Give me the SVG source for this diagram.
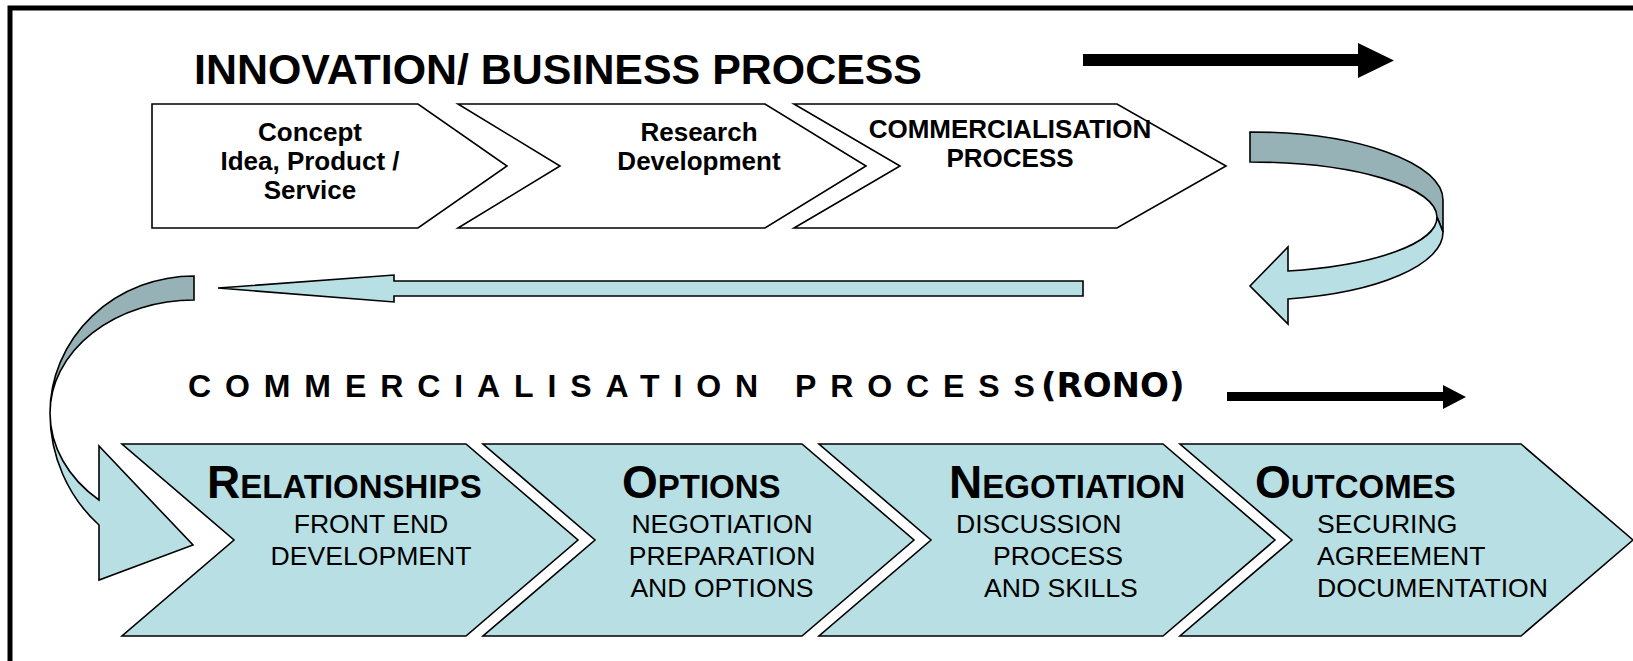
<svg xmlns="http://www.w3.org/2000/svg" width="1633" height="661" viewBox="0 0 1633 661">
<style>
.frame{fill:none;stroke:#000;stroke-width:5}
.wchev{fill:#fff;stroke:#000;stroke-width:1.6}
.tchev{fill:#B8DFE3;stroke:#000;stroke-width:1.6}
.light{fill:#B8DFE3;stroke:#000;stroke-width:1.6;stroke-linejoin:miter}
.dark{fill:#96B2B6;stroke:#000;stroke-width:1.6}
.blk{fill:#000;stroke:none}
.t1{font-family:"Liberation Sans",Arial,sans-serif;font-weight:bold;font-size:26px;fill:#000;text-anchor:middle}
.title{font-family:"Liberation Sans",Arial,sans-serif;font-weight:bold;font-size:42.5px;fill:#000}
.sub{font-family:"Liberation Sans",Arial,sans-serif;font-weight:bold;font-size:32px;letter-spacing:13.9px;fill:#000}
.rono{font-family:"DejaVu Sans",Verdana,sans-serif;font-weight:bold;font-size:34px;fill:#000}
.head{font-family:"Liberation Sans",Arial,sans-serif;font-weight:bold;font-size:33px;fill:#000}
.big{font-size:46px}
.body{font-family:"Liberation Sans",Arial,sans-serif;font-size:26.6px;fill:#000}
.mid{text-anchor:middle}
</style>
<rect width="1633" height="661" fill="#fff"/>
<rect class="frame" x="10" y="8" width="1700" height="720"/>

<text class="title" x="194" y="84" textLength="728" lengthAdjust="spacingAndGlyphs">INNOVATION/ BUSINESS PROCESS</text>

<g id="connectors">
  <path id="top-arrow" class="blk" d="M1083,54 L1358,54 L1358,43 L1394,60.5 L1358,78 L1358,66 L1083,66 Z"/>
  <path id="uturn-dark" class="dark" d="M1250,132 A193,68 0 0 1 1443,200 L1443,232 L1437,217 A187,55 0 0 0 1250,162 Z"/>
  <path id="uturn-light" class="light" d="M1437,217 A187,55 0 0 1 1288,271 L1288,247 L1250,286 L1288,324 L1288,299 A193,68 0 0 0 1443,232 Z"/>
  <path id="return-arrow" class="light" d="M1083,281 L394,281 L394,275 L218,288 L394,302 L394,296 L1083,296 Z"/>
  <path id="down-dark" class="dark" d="M194,276 A144,137 0 0 0 50,413 A144,113 0 0 1 194,300 Z"/>
  <path id="down-light" class="light" d="M50,413 A144,149 0 0 0 99,525 L99,580 L193,545 L99,446 L99,500 A144,116 0 0 1 50,413 Z"/>
  <path id="bottom-arrow" class="blk" d="M1227,392 L1443,392 L1443,385 L1466,397 L1443,409 L1443,401 L1227,401 Z"/>
</g>

<g id="concept">
  <path class="wchev" d="M152,104 L418,104 L507,166 L418,228 L152,228 Z"/>
  <text class="t1" x="310" y="141">Concept</text>
  <text class="t1" x="310" y="170">Idea, Product /</text>
  <text class="t1" x="310" y="199">Service</text>
</g>
<g id="research">
  <path class="wchev" d="M458,104 L765,104 L866,166 L765,228 L458,228 L560,166 Z"/>
  <text class="t1" x="699" y="141">Research</text>
  <text class="t1" x="699" y="170">Development</text>
</g>
<g id="commercialisation">
  <path class="wchev" d="M794,104 L1117,104 L1226,166 L1117,228 L794,228 L900,166 Z"/>
  <text class="t1" x="1010" y="138">COMMERCIALISATION</text>
  <text class="t1" x="1010" y="167">PROCESS</text>
</g>

<text class="sub" x="188" y="397">COMMERCIALISATION PROCESS</text>
<text class="rono" x="1041" y="397">(RONO)</text>

<g id="relationships">
  <path class="tchev" d="M122,444 L466,444 L578,540 L466,636 L122,636 L234,540 Z"/>
  <text class="head" x="207" y="498"><tspan class="big">R</tspan>ELATIONSHIPS</text>
  <text class="body mid" x="371" y="533">FRONT END</text>
  <text class="body mid" x="371" y="565">DEVELOPMENT</text>
</g>
<g id="options">
  <path class="tchev" d="M483,444 L802,444 L914,540 L802,636 L483,636 L595,540 Z"/>
  <text class="head" x="622" y="498"><tspan class="big">O</tspan>PTIONS</text>
  <text class="body mid" x="722" y="533">NEGOTIATION</text>
  <text class="body mid" x="722" y="565">PREPARATION</text>
  <text class="body mid" x="722" y="597">AND OPTIONS</text>
</g>
<g id="negotiation">
  <path class="tchev" d="M819,444 L1163,444 L1275,540 L1163,636 L819,636 L931,540 Z"/>
  <text class="head" x="949" y="498"><tspan class="big">N</tspan>EGOTIATION</text>
  <text class="body" x="956" y="533">DISCUSSION</text>
  <text class="body" x="993" y="565">PROCESS</text>
  <text class="body" x="984" y="597">AND SKILLS</text>
</g>
<g id="outcomes">
  <path class="tchev" d="M1180,444 L1521,444 L1633,540 L1521,636 L1180,636 L1292,540 Z"/>
  <text class="head" x="1255" y="498"><tspan class="big">O</tspan>UTCOMES</text>
  <text class="body" x="1317" y="533">SECURING</text>
  <text class="body" x="1317" y="565">AGREEMENT</text>
  <text class="body" x="1317" y="597">DOCUMENTATION</text>
</g>
</svg>
